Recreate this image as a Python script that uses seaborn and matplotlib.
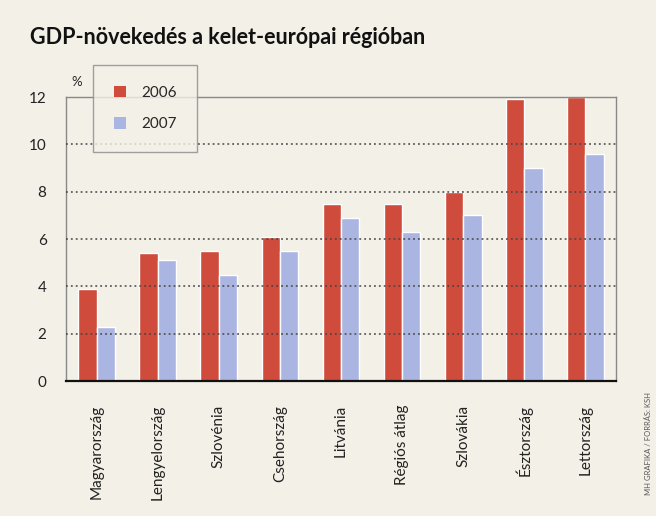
import pandas as pd
import seaborn as sns
import matplotlib.pyplot as plt
from matplotlib.patches import Patch

countries = ["Magyarország", "Lengyelország", "Szlovénia", "Csehország", "Litvánia",
             "Régiós átlag", "Szlovákia", "Észtország", "Lettország"]
growth_2006 = [3.9, 5.4, 5.5, 6.1, 7.5, 7.5, 8.0, 11.9, 12.0]
growth_2007 = [2.3, 5.1, 4.5, 5.5, 6.9, 6.3, 7.0, 9.0, 9.6]
years = ["2006", "2007"]

BG = "#f3f0e7"
RED = "#cf4b3b"
BLUE = "#abb5e1"

df = pd.DataFrame({
    "country": countries * 2,
    "year": [years[0]] * len(countries) + [years[1]] * len(countries),
    "value": growth_2006 + growth_2007,
})

sns.set_style("white")
plt.rcParams["font.family"] = ["Lato", "DejaVu Sans"]

fig = plt.figure(figsize=(6.56, 5.16), dpi=100, facecolor=BG)
ax = fig.add_axes([0.1006, 0.2616, 0.8384, 0.5504])
ax.set_facecolor(BG)

sns.barplot(data=df, x="country", y="value", hue="year", order=countries,
            hue_order=years, palette=[RED, BLUE], width=0.6, gap=0,
            saturation=1, ax=ax, legend=False, zorder=1)

ax.set_ylim(0, 12)
ax.set_xlim(-0.5, len(countries) - 0.5)
ax.set_yticks(range(0, 13, 2))
ax.set_xlabel("")
ax.set_ylabel("")
ax.tick_params(axis="y", labelsize=11, length=0, pad=14, colors="#222222")
ax.tick_params(axis="x", labelsize=11, length=0, pad=17, colors="#222222")
for lbl in ax.get_xticklabels():
    lbl.set_rotation(90)
    lbl.set_va("top")
    lbl.set_ha("center")

for y in [2, 4, 6, 8, 10]:
    ax.axhline(y, color="#444444", linestyle=(0, (1.2, 2)), linewidth=1.1, zorder=3)

for side in ["left", "right", "top"]:
    ax.spines[side].set_color("#888888")
    ax.spines[side].set_linewidth(1.0)
ax.spines["bottom"].set_color("#111111")
ax.spines["bottom"].set_linewidth(1.6)

ax.text(0.01, 1.03, "%", transform=ax.transAxes, fontsize=9.5, color="#222222",
        ha="left", va="bottom")

handles = [Patch(facecolor=RED, edgecolor="none"), Patch(facecolor=BLUE, edgecolor="none")]
leg = ax.legend(handles, years, loc="upper left", bbox_to_anchor=(0.049, 1.113),
                frameon=True, fancybox=False, shadow=False, fontsize=11,
                handlelength=0.8, handleheight=0.8, handletextpad=1.0,
                borderpad=1.35, labelspacing=1.15, borderaxespad=0)
leg.get_frame().set_facecolor(BG)
leg.get_frame().set_edgecolor("#8a8a8a")
leg.get_frame().set_linewidth(1.0)
leg.set_zorder(5)

fig.text(0.045, 0.928, "GDP-növekedés a kelet-európai régióban", fontsize=15.5,
         fontweight="bold", color="#111111", ha="left", va="center")

fig.text(0.988, 0.14, "MH GRAFIKA / FORRÁS: KSH", rotation=90, fontsize=5.5,
         color="#555555", ha="center", va="center")

fig.savefig("out.png", dpi=100, facecolor=BG)
